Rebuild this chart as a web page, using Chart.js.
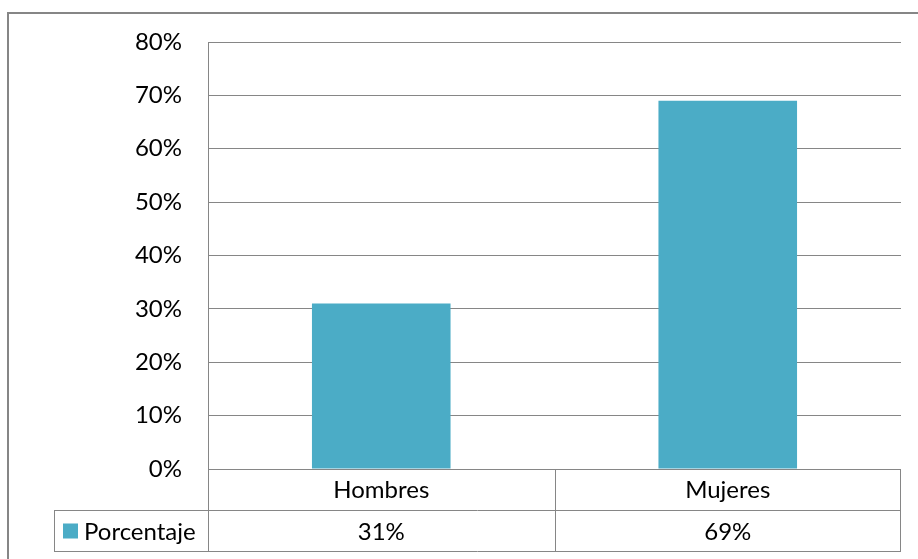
<!DOCTYPE html>
<html>
<head>
<meta charset="utf-8">
<style>
  html, body { margin: 0; padding: 0; background: #ffffff; }
  #wrap { width: 918px; height: 559px; position: relative; }
  canvas { display: block; }
</style>
<script src="https://cdn.jsdelivr.net/npm/chart.js@4/dist/chart.umd.min.js"></script>
</head>
<body>
<div id="wrap"><canvas id="chart" width="918" height="559"></canvas></div>
<script>
// Chart data
const categories = ['Hombres', 'Mujeres'];
const seriesName = 'Porcentaje';
const porcentaje = [31, 69];
const yTickLabels = ['0%', '10%', '20%', '30%', '40%', '50%', '60%', '70%', '80%'];

// Styling
const LINE_COLOR = '#868686';
const BAR_COLOR = '#4BACC6';
const TEXT_COLOR = '#000000';
const FONT_FAMILY = 'Lato, "Open Sans", sans-serif';
const FONT_SIZE = 24;

// Frame around the whole chart plus the data table under the plot area
const dataTablePlugin = {
  id: 'dataTable',
  beforeDraw(chart) {
    const ctx = chart.ctx;
    ctx.save();
    ctx.fillStyle = LINE_COLOR;
    ctx.fillRect(7, 12, chart.width, 2);
    ctx.fillRect(7, 12, 2, chart.height);
    ctx.restore();
  },
  afterDraw(chart) {
    const ctx = chart.ctx;
    const a = chart.chartArea;
    const x = chart.scales.x;
    const rowH = 41;
    const r1 = a.bottom;
    const r2 = a.bottom + rowH;
    const r3 = a.bottom + 2 * rowH;
    const keyLeft = 54;
    const crisp = v => Math.round(v) + 0.5;

    ctx.save();
    ctx.strokeStyle = LINE_COLOR;
    ctx.lineWidth = 1;
    const line = (x1, y1, x2, y2) => {
      ctx.beginPath();
      ctx.moveTo(x1, y1);
      ctx.lineTo(x2, y2);
      ctx.stroke();
    };
    // horizontal rules
    line(a.left, crisp(r1), a.right, crisp(r1));
    line(keyLeft, crisp(r2), a.right, crisp(r2));
    line(keyLeft, crisp(r3), a.right, crisp(r3));
    // vertical rules
    line(crisp(keyLeft), crisp(r2), crisp(keyLeft), crisp(r3));
    line(crisp(a.left), r1, crisp(a.left), crisp(r3));
    for (let i = 1; i < categories.length; i++) {
      const b = (x.getPixelForValue(i - 1) + x.getPixelForValue(i)) / 2;
      line(crisp(b), crisp(r1), crisp(b), crisp(r3));
    }
    line(crisp(a.right) - 1, crisp(r1), crisp(a.right) - 1, crisp(r3));

    // text
    ctx.fillStyle = TEXT_COLOR;
    ctx.font = FONT_SIZE + 'px ' + FONT_FAMILY;
    ctx.textBaseline = 'alphabetic';
    ctx.textAlign = 'center';
    categories.forEach((c, i) => {
      ctx.fillText(c, x.getPixelForValue(i), r1 + 29);
    });
    porcentaje.forEach((v, i) => {
      ctx.fillText(v + '%', x.getPixelForValue(i), r2 + 29.5);
    });

    // legend key
    ctx.fillStyle = BAR_COLOR;
    ctx.fillRect(63, r2 + 13.5, 15, 15);
    ctx.fillStyle = TEXT_COLOR;
    ctx.textAlign = 'left';
    ctx.fillText(seriesName, 84, r2 + 29.5);
    ctx.restore();
  }
};

new Chart(document.getElementById('chart'), {
  type: 'bar',
  data: {
    labels: categories,
    datasets: [{
      label: seriesName,
      data: porcentaje,
      backgroundColor: BAR_COLOR,
      borderWidth: 0,
      categoryPercentage: 1.0,
      barPercentage: 0.4
    }]
  },
  options: {
    responsive: false,
    animation: false,
    devicePixelRatio: 1,
    layout: { padding: { top: 42, right: 17, left: 0, bottom: 0 } },
    plugins: {
      legend: { display: false },
      tooltip: { enabled: false }
    },
    scales: {
      x: {
        ticks: { display: false },
        grid: { display: false, drawTicks: false },
        border: { display: false },
        afterFit(scale) { scale.height = 90; }
      },
      y: {
        min: 0,
        max: 80,
        ticks: {
          stepSize: 10,
          padding: 26,
          color: TEXT_COLOR,
          font: { family: FONT_FAMILY, size: FONT_SIZE },
          callback: (v, i) => yTickLabels[i]
        },
        grid: { color: LINE_COLOR, lineWidth: 1, drawTicks: false },
        border: { display: true, color: LINE_COLOR, width: 1 },
        afterFit(scale) { scale.width = 208; }
      }
    }
  },
  plugins: [dataTablePlugin]
});
</script>
</body>
</html>
